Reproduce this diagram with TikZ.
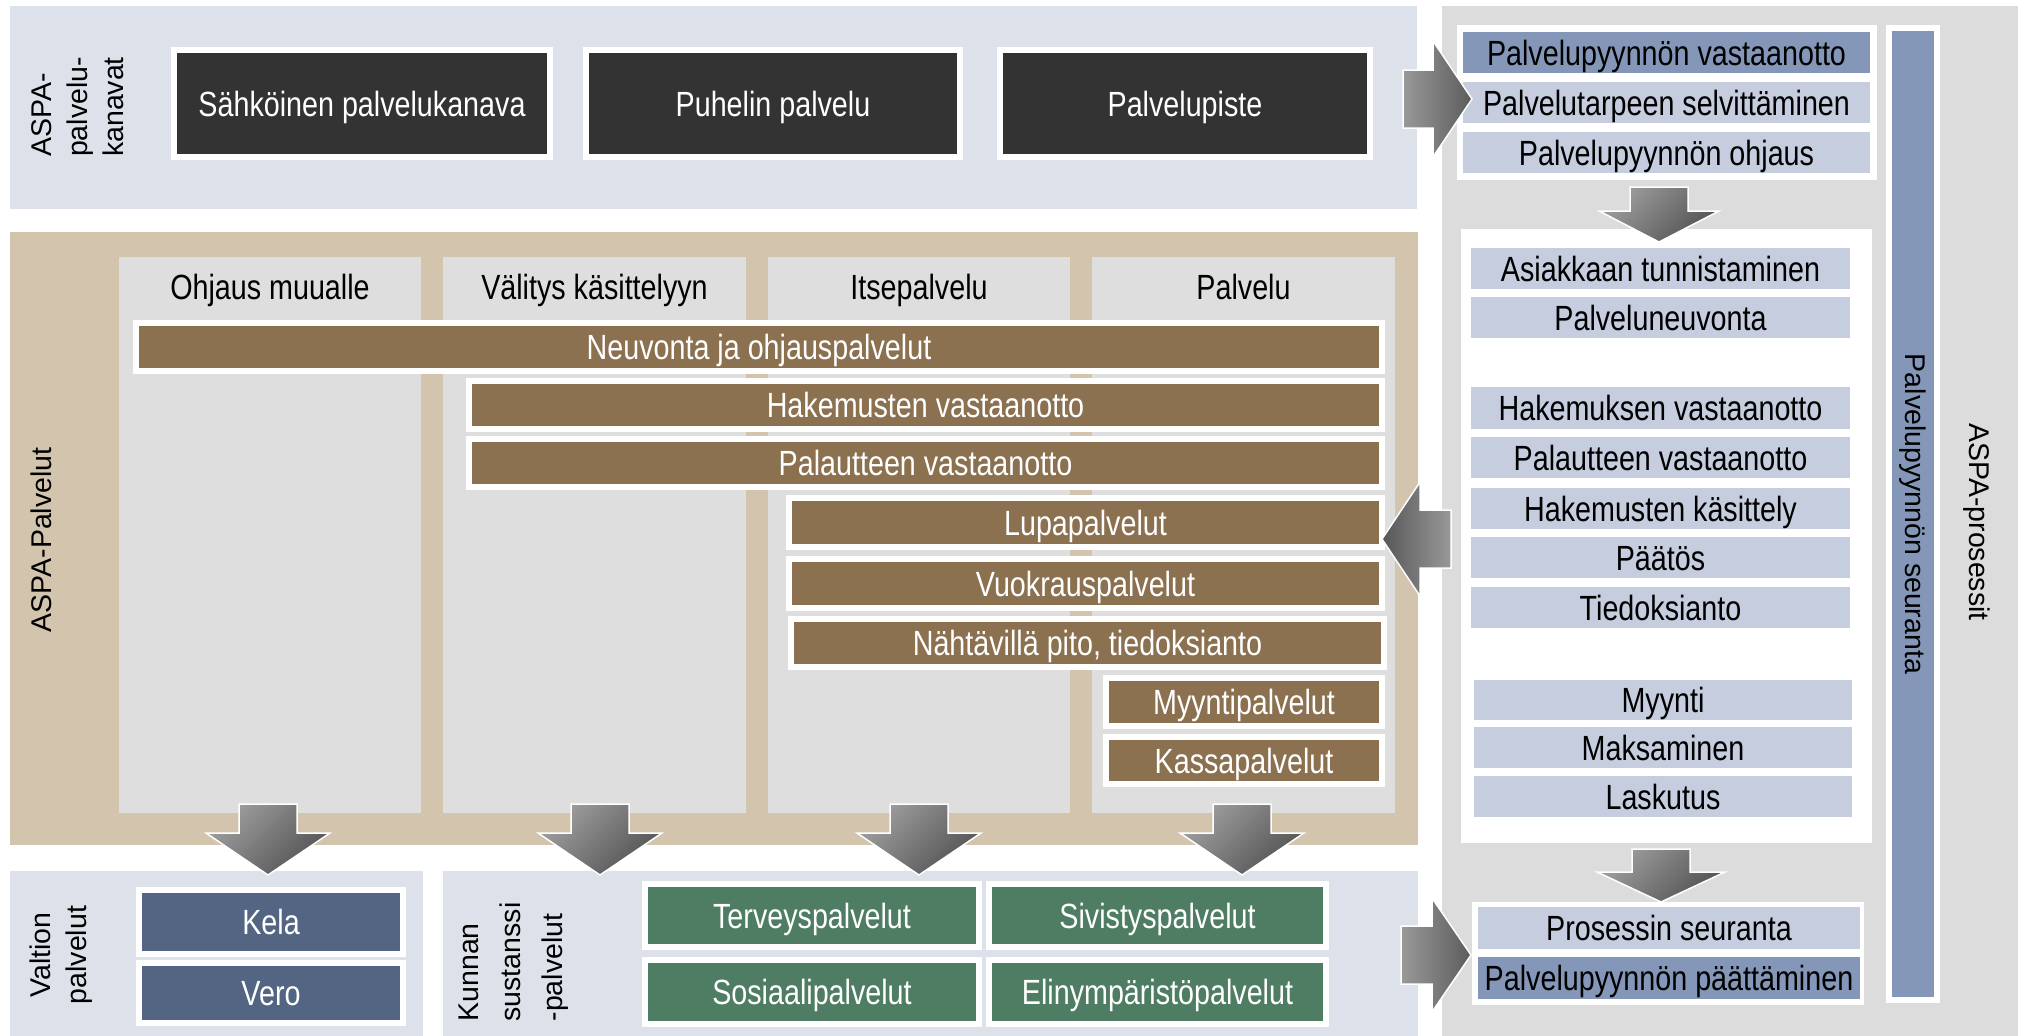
\documentclass[tikz,border=0pt]{standalone}
\usepackage{fontspec}
\setmainfont{Liberation Sans}
\newfontfamily\narrowfont{Liberation Sans}[FakeStretch=0.82]
\definecolor{lpanel}{HTML}{DDE1EA}
\definecolor{tanpanel}{HTML}{D3C4AE}
\definecolor{colgrey}{HTML}{DEDEDE}
\definecolor{brownbar}{HTML}{8B7150}
\definecolor{darkbox}{HTML}{333333}
\definecolor{slatebox}{HTML}{536582}
\definecolor{greenbox}{HTML}{4E7D63}
\definecolor{rgrey}{HTML}{DCDCDC}
\definecolor{dblue}{HTML}{8497B8}
\definecolor{lblue}{HTML}{C5CDDE}
\newcommand\labfont{\fontsize{28.5}{36}\selectfont}
\newcommand\labfontwide{\fontsize{28.5}{42}\selectfont}
% box from outer corners (x1,y1)-(x2,y2), no border
\newcommand\bx[7]{\node[base, minimum width={#4-#2}, minimum height={#5-#3}, #6] (#1) at ({(#2+#4)/2},{(#3+#5)/2}) {#7};}
% box with white 6px border, outer corners given
\newcommand\wbx[7]{\node[base, draw=white, line width=6pt, minimum width={#4-#2-6}, minimum height={#5-#3-6}, #6] (#1) at ({(#2+#4)/2},{(#3+#5)/2}) {#7};}
% block arrows
\newcommand\blockdown[6]{\path[blockarr, top color=black!38, bottom color=black!68, shading angle=45]
  ({#1-#5},#2) -- ({#1+#5},#2) -- ({#1+#5},#3) -- ({#1+#6},#3) -- (#1,#4) -- ({#1-#6},#3) -- ({#1-#5},#3) -- cycle;}
\newcommand\blockright[6]{\path[blockarr, left color=black!40, right color=black!64]
  (#1,{#6-#5}) -- (#2,{#6-#5}) -- (#2,{#6-#4}) -- (#3,#6) -- (#2,{#6+#4}) -- (#2,{#6+#5}) -- (#1,{#6+#5}) -- cycle;}
\newcommand\blockleft[6]{\path[blockarr, left color=black!66, right color=black!40]
  (#1,{#6-#5}) -- (#2,{#6-#5}) -- (#2,{#6-#4}) -- (#3,#6) -- (#2,{#6+#4}) -- (#2,{#6+#5}) -- (#1,{#6+#5}) -- cycle;}
\begin{document}
\begin{tikzpicture}[x=1pt,y=-1pt,
  base/.style={inner sep=0pt, outer sep=0pt},
  nar/.style={font=\narrowfont\fontsize{35}{40}\selectfont, text height=25pt, text depth=0pt},
  wt/.style={nar, text=white},
  bk/.style={nar, text=black},
  blockarr/.style={draw=white, line width=1.5pt, line join=miter},
  vlab/.style={font=\labfont, text=black, inner sep=0pt}]
\useasboundingbox (0,0) rectangle (2024,1036);
\fill[white] (0,0) rectangle (2024,1036);

% ---------- top panel: channels
\bx{toppanel}{10}{6}{1417}{209}{fill=lpanel}{}
\node[vlab, rotate=90, align=left] (labchan) at (78,107) {ASPA-\\palvelu-\\kanavat};
\wbx{ch1}{171}{47}{553}{160}{fill=darkbox, wt}{Sähköinen palvelukanava}
\wbx{ch2}{583}{47}{963}{160}{fill=darkbox, wt}{Puhelin palvelu}
\wbx{ch3}{997}{47}{1373}{160}{fill=darkbox, wt}{Palvelupiste}

% ---------- middle panel: services
\bx{midpanel}{10}{232}{1418}{845}{fill=tanpanel}{}
\node[vlab, rotate=90] (labserv) at (41,540) {ASPA-Palvelut};
\bx{c1}{119}{257}{421}{813}{fill=colgrey}{}
\bx{c2}{443}{257}{746}{813}{fill=colgrey}{}
\bx{c3}{768}{257}{1070}{813}{fill=colgrey}{}
\bx{c4}{1092}{257}{1395}{813}{fill=colgrey}{}
\node[bk] (h1) at (270,287) {Ohjaus muualle};
\node[bk] (h2) at (594.5,287) {Välitys käsittelyyn};
\node[bk] (h3) at (919,287) {Itsepalvelu};
\node[bk] (h4) at (1243.5,287) {Palvelu};

\wbx{neuv}{133}{320}{1385}{374}{fill=brownbar, wt}{Neuvonta ja ohjauspalvelut}
\wbx{hak}{466}{378}{1385}{432}{fill=brownbar, wt}{Hakemusten vastaanotto}
\wbx{pal}{466}{436}{1385}{490}{fill=brownbar, wt}{Palautteen vastaanotto}
\wbx{lupa}{786}{495}{1385}{550}{fill=brownbar, wt}{Lupapalvelut}
\wbx{vuok}{786}{556}{1385}{611}{fill=brownbar, wt}{Vuokrauspalvelut}
\wbx{naht}{788}{616}{1387}{670}{fill=brownbar, wt}{Nähtävillä pito, tiedoksianto}
\wbx{myyn}{1103}{675}{1385}{729}{fill=brownbar, wt}{Myyntipalvelut}
\wbx{kassa}{1103}{734}{1385}{787}{fill=brownbar, wt}{Kassapalvelut}

% ---------- bottom left: state services
\bx{statepanel}{10}{871}{423}{1036}{fill=lpanel}{}
\node[vlab, rotate=90, align=center] (labstate) at (61,955) {Valtion\\palvelut};
\wbx{kela}{136}{887}{406}{957}{fill=slatebox, wt}{Kela}
\wbx{vero}{136}{960}{406}{1026}{fill=slatebox, wt}{Vero}

% ---------- bottom middle: municipal services
\bx{munpanel}{443}{871}{1418}{1036}{fill=lpanel}{}
\node[vlab, font=\labfontwide, rotate=90, align=left] (labmun) at (514,962) {Kunnan\\sustanssi\\-palvelut};
\wbx{terv}{642}{881}{982}{950}{fill=greenbox, wt}{Terveyspalvelut}
\wbx{sivi}{986}{881}{1329}{950}{fill=greenbox, wt}{Sivistyspalvelut}
\wbx{sosi}{642}{957}{982}{1027}{fill=greenbox, wt}{Sosiaalipalvelut}
\wbx{elin}{986}{957}{1329}{1027}{fill=greenbox, wt}{Elinympäristöpalvelut}

% ---------- right: processes
\bx{procpanel}{1442}{6}{2018}{1036}{fill=rgrey}{}
\node[vlab, rotate=-90] (labproc) at (1977,522) {ASPA-prosessit};
\wbx{seur}{1886}{25}{1940}{1003}{fill=dblue}{}
\node[vlab, rotate=-90] (labseur) at (seur.center) {Palvelupyynnön seuranta};

\bx{topbox}{1457}{25}{1877}{180}{fill=white}{}
\bx{vast}{1463}{32}{1870}{73}{fill=dblue, bk}{Palvelupyynnön vastaanotto}
\bx{selv}{1463}{82}{1870}{123}{fill=lblue, bk}{Palvelutarpeen selvittäminen}
\bx{ohj}{1463}{132}{1870}{173}{fill=lblue, bk}{Palvelupyynnön ohjaus}

\bx{midbox}{1461}{229}{1872}{843}{fill=white}{}
\bx{asiak}{1471}{248}{1850}{289}{fill=lblue, bk}{Asiakkaan tunnistaminen}
\bx{pneuv}{1471}{297}{1850}{338}{fill=lblue, bk}{Palveluneuvonta}
\bx{hakem}{1471}{387}{1850}{429}{fill=lblue, bk}{Hakemuksen vastaanotto}
\bx{palau}{1471}{437}{1850}{478}{fill=lblue, bk}{Palautteen vastaanotto}
\bx{hakk}{1471}{488}{1850}{529}{fill=lblue, bk}{Hakemusten käsittely}
\bx{paat}{1471}{537}{1850}{578}{fill=lblue, bk}{Päätös}
\bx{tied}{1471}{587}{1850}{628}{fill=lblue, bk}{Tiedoksianto}
\bx{myynti}{1474}{680}{1852}{720}{fill=lblue, bk}{Myynti}
\bx{maks}{1474}{727}{1852}{768}{fill=lblue, bk}{Maksaminen}
\bx{lask}{1474}{776}{1852}{817}{fill=lblue, bk}{Laskutus}

\bx{botbox}{1472}{902}{1864}{1005}{fill=white}{}
\bx{pros}{1478}{907}{1860}{949}{fill=lblue, bk}{Prosessin seuranta}
\bx{paatt}{1478}{957}{1860}{999}{fill=dblue, bk}{Palvelupyynnön päättäminen}

% ---------- block arrows
\blockdown{268}{804}{833}{875}{29}{62}
\blockdown{600}{804}{833}{875}{29}{62}
\blockdown{919}{804}{833}{875}{29}{62}
\blockdown{1242}{804}{833}{875}{29}{62}
\blockdown{1659}{187}{211}{242}{29}{60}
\blockdown{1661}{849}{872}{902}{29}{64}
\blockright{1403}{1433}{1472}{58}{29}{99}
\blockright{1401}{1432}{1471}{57}{29}{955}
\blockleft{1451}{1420}{1382}{57}{29}{539}
\end{tikzpicture}
\end{document}
